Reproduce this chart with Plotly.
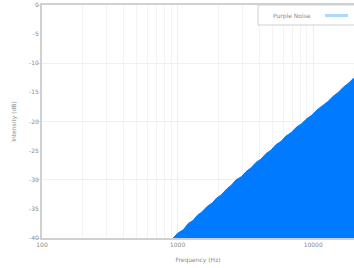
import plotly.graph_objects as go

freq_hz = [930, 1000, 1100, 1200, 1300, 1400, 1500, 1650, 1800, 1950, 2100, 2300, 2500,
           2700, 2950, 3200, 3500, 3800, 4100, 4500, 4900, 5300, 5800, 6300, 6900, 7500,
           8200, 9000, 9800, 10700, 11700, 12800, 14000, 15300, 16700, 18300, 20000]
intensity_db = [-40.0, -39.2, -38.6, -37.5, -37.0, -36.1, -35.6, -34.6, -34.0, -33.1, -32.6,
                -31.6, -30.9, -30.0, -29.5, -28.6, -27.9, -27.0, -26.5, -25.5, -24.9, -24.0,
                -23.4, -22.5, -21.9, -21.0, -20.4, -19.5, -18.9, -18.0, -17.3, -16.6, -15.7,
                -15.0, -14.1, -13.4, -12.5]
baseline_db = -40
series_name = "Purple Noise"
x_ticks = [100, 1000, 10000]
y_ticks = [0, -5, -10, -15, -20, -25, -30, -35, -40]

blue = "#007bff"
grey = "#8a8a8a"
axis_col = "rgba(170,170,170,0.55)"

W, H = 354, 268
ML, MR, MT, MB = 42, 0, 5, 30
PW, PH = W - ML - MR, H - MT - MB

fig = go.Figure()
fig.add_trace(go.Scatter(x=freq_hz, y=[baseline_db] * len(freq_hz), mode="lines",
                         line=dict(width=0, color=blue), showlegend=False, hoverinfo="skip"))
fig.add_trace(go.Scatter(x=freq_hz, y=intensity_db, mode="lines", fill="tonexty",
                         fillcolor=blue, line=dict(width=1, color=blue), showlegend=False,
                         name=series_name))


def px(x):
    return (x - ML) / PW


def py(y):
    return 1 - (y - MT) / PH


# legend drawn as a box with text on the left and the line sample on the right
fig.add_shape(type="rect", xref="paper", yref="paper",
              x0=px(258), x1=px(356), y0=py(25), y1=py(5),
              line=dict(color="#d0d0d0", width=1), fillcolor="white", layer="above")
fig.add_shape(type="line", xref="paper", yref="paper",
              x0=px(325), x1=px(348), y0=py(15.5), y1=py(15.5),
              line=dict(color="rgba(0,123,255,0.3)", width=3), layer="above")
fig.add_annotation(text=series_name, xref="paper", yref="paper", x=px(271), y=py(15.5),
                   xanchor="left", yanchor="middle", showarrow=False,
                   font=dict(size=6, color=grey))

fig.update_layout(
    width=W, height=H,
    margin=dict(l=ML, r=MR, t=MT, b=MB),
    plot_bgcolor="white", paper_bgcolor="white",
    font=dict(family="DejaVu Sans", size=6, color=grey),
    showlegend=False,
    xaxis=dict(type="log", range=[2, 4.301], tickvals=x_ticks,
               ticktext=[str(v) for v in x_ticks], automargin=False,
               showline=True, linecolor=axis_col, linewidth=2, mirror=True,
               showgrid=True, gridcolor="#eeeeee", ticks="",
               minor=dict(dtick="D1", showgrid=True, gridcolor="#f3f3f3"),
               title=dict(text="Frequency (Hz)", font=dict(size=6, color=grey), standoff=11),
               zeroline=False),
    yaxis=dict(range=[-40, 0], tickvals=y_ticks, ticktext=[str(v) for v in y_ticks],
               automargin=False,
               showline=True, linecolor=axis_col, linewidth=2,
               showgrid=False, ticks="", zeroline=False,
               minor=dict(dtick=10, showgrid=True, gridcolor="#f0f0f0",
                          ticks="outside", ticklen=3, tickcolor="#dddddd"),
               title=dict(text="Intensity (dB)", font=dict(size=6, color=grey), standoff=12)),
)

fig.write_html("out.html", config={"displayModeBar": False},
               post_script="document.body.style.margin='0';document.body.style.overflow='hidden';")
